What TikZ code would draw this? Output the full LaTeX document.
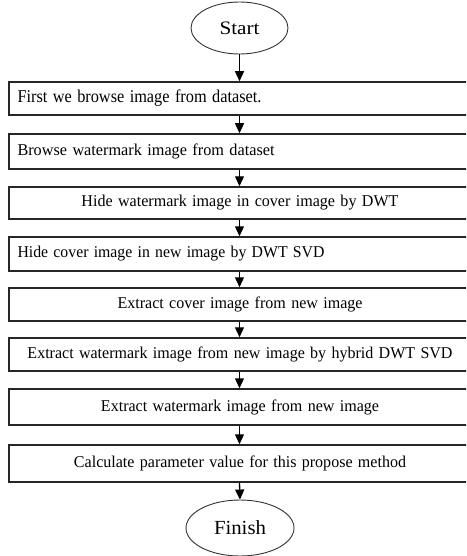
\documentclass[tikz,border=0pt]{standalone}
\usepackage{fontspec}
\setmainfont{Liberation Serif}
\usetikzlibrary{arrows.meta,shapes.geometric}
\newcommand{\wtext}[2]{\resizebox{#1pt}{\height}{#2}}
\begin{document}
\begin{tikzpicture}[x=1pt,y=-1pt,
  stepbox/.style={draw=black!85, line width=1.5pt, rectangle, minimum width=462pt,
    text width=445pt, inner xsep=8.5pt, inner ysep=0pt, font=\fontsize{16.5}{18}\selectfont},
  term/.style={draw=black!80, line width=0.9pt, ellipse, inner sep=0pt},
  flow/.style={-{Triangle[length=10pt,width=9pt]}, line width=1.3pt}]
\useasboundingbox (0,0) rectangle (466,556);
\clip (0,0) rectangle (466,556);
\node[term, minimum width=97pt, minimum height=52pt, font=\fontsize{19}{21}\selectfont] (start) at (239.5,28) {\wtext{40}{Start}};
\node[stepbox, minimum height=33pt, align=left, font=\fontsize{18}{20}\selectfont] (b1) at (240,98.5) {\wtext{244}{First we browse image from dataset.}};
\node[stepbox, minimum height=35pt, align=left] (b2) at (240,151.5) {\wtext{257}{Browse watermark image from dataset}};
\node[stepbox, minimum height=32pt, align=center] (b3) at (240,203) {\wtext{317}{Hide watermark image in cover image by DWT}};
\node[stepbox, minimum height=34pt, align=left] (b4) at (240,254) {\wtext{307}{Hide cover image in new image by DWT SVD}};
\node[stepbox, minimum height=33pt, align=center] (b5) at (240,304.5) {\wtext{245}{Extract cover image from new image}};
\node[stepbox, minimum height=33pt, align=center] (b6) at (240,354.5) {\wtext{425}{Extract watermark image from new image by hybrid DWT SVD}};
\node[stepbox, minimum height=36pt, align=center] (b7) at (240,407) {\wtext{278}{Extract watermark image from new image}};
\node[stepbox, minimum height=37pt, align=center] (b8) at (240,463.5) {\wtext{332}{Calculate parameter value for this propose method}};
\node[term, minimum width=108pt, minimum height=56pt, font=\fontsize{20}{22}\selectfont] (finish) at (240,528) {\wtext{52}{Finish}};
\draw[flow] (start.south) -- (start.south |- b1.north);
\draw[flow] (b1.south -| start.south) -- (b2.north -| start.south);
\draw[flow] (b2.south -| start.south) -- (b3.north -| start.south);
\draw[flow] (b3.south -| start.south) -- (b4.north -| start.south);
\draw[flow] (b4.south -| start.south) -- (b5.north -| start.south);
\draw[flow] (b5.south -| start.south) -- (b6.north -| start.south);
\draw[flow] (b6.south -| start.south) -- (b7.north -| start.south);
\draw[flow] (b7.south -| start.south) -- (b8.north -| start.south);
\draw[flow] (b8.south -| start.south) -- (finish.north);
\end{tikzpicture}
\end{document}
